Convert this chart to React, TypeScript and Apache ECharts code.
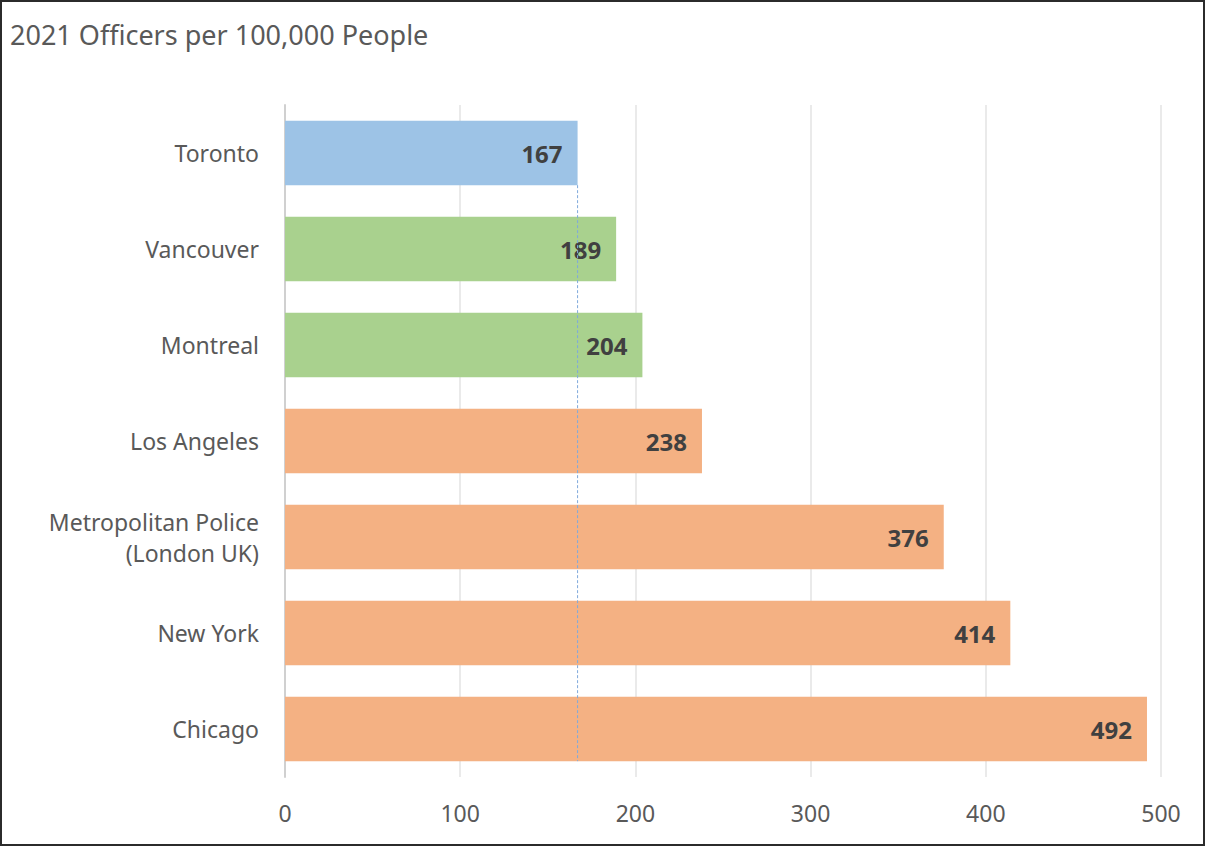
import React, { useEffect, useRef } from "react";
import * as echarts from "echarts";

const titleText = "2021 Officers per 100,000 People";
const categories = [
  "Toronto",
  "Vancouver",
  "Montreal",
  "Los Angeles",
  "Metropolitan Police\n(London UK)",
  "New York",
  "Chicago",
];
const values = [167, 189, 204, 238, 376, 414, 492];
const barColors = ["#9dc3e6", "#a9d18e", "#a9d18e", "#f4b183", "#f4b183", "#f4b183", "#f4b183"];
const referenceValue = 167;
const xTicks = { min: 0, max: 500, interval: 100 };

const FONT = "'Noto Sans', 'Open Sans', sans-serif";

export default function App() {
  const ref = useRef<HTMLDivElement>(null);
  useEffect(() => {
    document.body.style.margin = "0";
    const chart = echarts.init(ref.current!, null, { renderer: "svg" });
    const gapRatio = 0.33;
    chart.setOption({
      animation: false,
      backgroundColor: "#ffffff",
      title: {
        text: titleText,
        left: 5,
        top: 16,
        textStyle: { fontFamily: FONT, fontSize: 27, fontWeight: "normal", color: "#595959" },
      },
      grid: { left: 285, right: 48, top: 105, bottom: 71, containLabel: false },
      xAxis: {
        type: "value",
        min: xTicks.min,
        max: xTicks.max,
        interval: xTicks.interval,
        axisLine: { show: false },
        axisTick: { show: false },
        splitLine: { show: true, lineStyle: { color: "#e3e3e3", width: 1.5 } },
        axisLabel: { fontFamily: FONT, fontSize: 23, color: "#595959", margin: 24 },
      },
      yAxis: {
        type: "category",
        data: categories,
        inverse: true,
        axisLine: { show: true, lineStyle: { color: "#d0d0d0", width: 2 } },
        axisTick: { show: false },
        axisLabel: {
          fontFamily: FONT,
          fontSize: 23,
          color: "#595959",
          margin: 26,
          lineHeight: 31,
          align: "right",
        },
      },
      series: [
        {
          type: "bar",
          barCategoryGap: "33%",
          data: values.map((v, i) => ({ value: v, itemStyle: { color: barColors[i] } })),
          label: {
            show: true,
            position: "insideRight",
            distance: 15,
            fontFamily: FONT,
            fontSize: 24,
            fontWeight: "bold",
            color: "#404040",
          },
        },
        {
          type: "custom",
          silent: true,
          clip: false,
          encode: { x: 0, y: 1 },
          data: [[referenceValue, 0, categories.length - 1]],
          renderItem: (params: any, api: any) => {
            const v = api.value(0);
            const first = api.value(1);
            const last = api.value(2);
            const p1 = api.coord([v, first]);
            const p2 = api.coord([v, last]);
            const band = api.size([0, 1])[1];
            const half = (band * (1 - gapRatio)) / 2;
            return {
              type: "line",
              shape: { x1: p1[0], y1: p1[1] + half, x2: p2[0], y2: p2[1] + half },
              style: { stroke: "#7ea9dc", lineWidth: 1, lineDash: [3, 2] },
            };
          },
          z: 5,
        },
      ],
      graphic: [
        {
          type: "rect",
          shape: { x: 1, y: 1, width: 1203, height: 844 },
          style: { fill: "none", stroke: "#2b2b2b", lineWidth: 2 },
          silent: true,
        },
      ],
    });
    return () => chart.dispose();
  }, []);
  return <div ref={ref} style={{ width: 1209, height: 848 }} />;
}
